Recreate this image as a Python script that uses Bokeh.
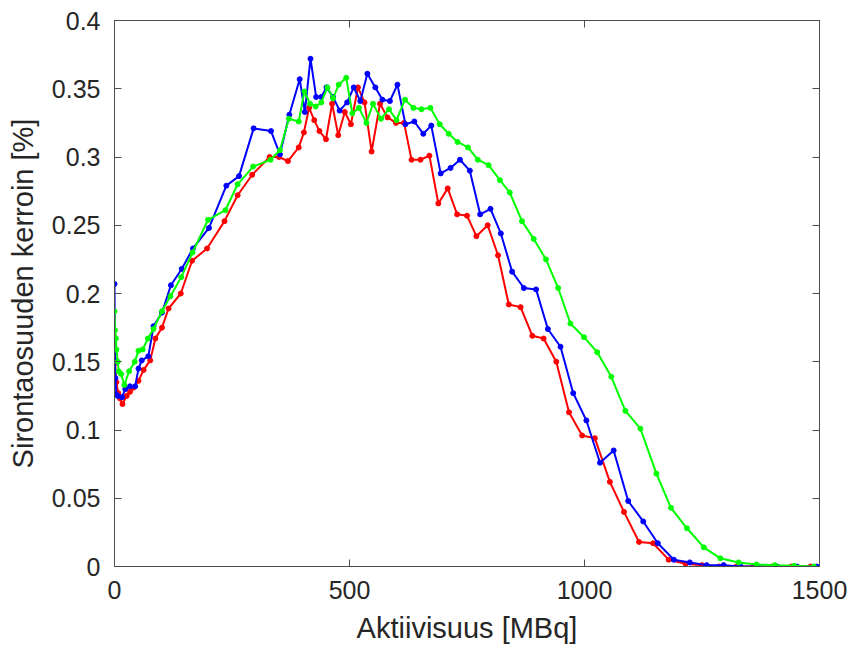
from bokeh.plotting import figure
from bokeh.models import LinearAxis, FixedTicker, Range1d, ColumnDataSource
from bokeh.embed import file_html
from bokeh.resources import INLINE

# ---- data ----
red_x = [0, 1, 4, 8, 12, 17, 26, 33, 40, 51, 62, 76, 87, 101, 115, 141, 165, 197, 234, 262,
         293, 330, 350, 369, 392, 403, 414, 425, 436, 450, 463, 476, 490, 503, 518, 532, 547,
         565, 581, 599, 616, 632, 651, 670, 689, 709, 729, 750, 770, 794, 816, 839, 864, 889,
         913, 940, 967, 995, 1022, 1054, 1084, 1116, 1146, 1179, 1215, 1250, 1286, 1323, 1360,
         1399, 1440, 1481]
red_y = [0.168, 0.149, 0.135, 0.127, 0.123, 0.119, 0.125, 0.128, 0.131, 0.136, 0.144, 0.151,
         0.167, 0.175, 0.189, 0.200, 0.224, 0.233, 0.253, 0.272, 0.287, 0.300, 0.300, 0.297,
         0.307, 0.318, 0.336, 0.327, 0.319, 0.313, 0.339, 0.316, 0.333, 0.324, 0.351, 0.340,
         0.304, 0.339, 0.329, 0.325, 0.325, 0.298, 0.298, 0.301, 0.266, 0.277, 0.258, 0.257,
         0.242, 0.250, 0.228, 0.192, 0.190, 0.169, 0.167, 0.150, 0.113, 0.096, 0.094, 0.062,
         0.040, 0.018, 0.017, 0.005, 0.002, 0.001, 0.0, 0.0, 0.0, 0.0, 0.0, 0.0]

blue_x = [0, 1, 2, 4, 7, 16, 23, 33, 44, 51, 58, 72, 83, 101, 120, 143, 167, 201, 238, 265,
          296, 333, 352, 372, 394, 405, 417, 429, 440, 451, 465, 479, 495, 509, 523, 538, 555,
          570, 586, 602, 619, 638, 657, 674, 694, 715, 735, 756, 778, 800, 822, 846, 871, 897,
          922, 949, 976, 1004, 1033, 1062, 1093, 1125, 1156, 1190, 1224, 1260, 1296, 1332, 1367,
          1410, 1452, 1494]
blue_y = [0.207, 0.151, 0.138, 0.126, 0.125, 0.124, 0.130, 0.132, 0.132, 0.145, 0.151, 0.154,
          0.176, 0.186, 0.206, 0.218, 0.233, 0.248, 0.279, 0.286, 0.321, 0.319, 0.302, 0.331,
          0.357, 0.333, 0.372, 0.344, 0.344, 0.351, 0.344, 0.334, 0.340, 0.351, 0.341, 0.361,
          0.351, 0.342, 0.341, 0.353, 0.324, 0.326, 0.317, 0.323, 0.288, 0.292, 0.298, 0.290,
          0.258, 0.262, 0.244, 0.216, 0.204, 0.203, 0.174, 0.161, 0.127, 0.107, 0.076, 0.085,
          0.048, 0.033, 0.017, 0.005, 0.003, 0.001, 0.001, 0.0, 0.0, 0.0, 0.0, 0.0]

green_x = [0, 1, 3, 4, 7, 9, 14, 21, 31, 43, 51, 60, 71, 83, 101, 119, 142, 166, 199, 236,
           262, 295, 332, 352, 371, 392, 404, 416, 428, 440, 453, 465, 477, 493, 506, 520, 536,
           550, 567, 584, 600, 618, 636, 653, 672, 692, 711, 730, 752, 773, 796, 820, 841, 867,
           892, 918, 944, 970, 999, 1027, 1057, 1087, 1119, 1153, 1184, 1218, 1254, 1289, 1328,
           1366, 1405, 1446, 1488]
green_y = [0.187, 0.173, 0.167, 0.159, 0.150, 0.143, 0.141, 0.133, 0.143, 0.150, 0.158, 0.159,
           0.167, 0.174, 0.187, 0.198, 0.212, 0.230, 0.254, 0.261, 0.280, 0.293, 0.298, 0.305,
           0.328, 0.326, 0.348, 0.339, 0.337, 0.340, 0.351, 0.343, 0.353, 0.358, 0.332, 0.336,
           0.325, 0.339, 0.328, 0.335, 0.327, 0.342, 0.336, 0.335, 0.336, 0.324, 0.317, 0.311,
           0.307, 0.298, 0.294, 0.283, 0.274, 0.253, 0.240, 0.225, 0.204, 0.178, 0.168, 0.157,
           0.139, 0.114, 0.101, 0.068, 0.043, 0.028, 0.014, 0.006, 0.003, 0.0015, 0.001, 0.0005,
           0.0]

x_ticks = [0, 500, 1000, 1500]
x_tick_labels = ["0", "500", "1000", "1500"]
y_ticks = [0, 0.05, 0.1, 0.15, 0.2, 0.25, 0.3, 0.35, 0.4]
y_tick_labels = ["0", "0.05", "0.1", "0.15", "0.2", "0.25", "0.3", "0.35", "0.4"]
x_label = "Aktiivisuus [MBq]"
y_label = "Sirontaosuuden kerroin [%]"

FONT = "Liberation Sans"
AX_COL = "#262626"
BOX_COL = "#4d4d4d"

p = figure(width=854, height=653, output_backend="svg", toolbar_location=None,
           x_range=Range1d(0, 1500), y_range=Range1d(0, 0.4),
           min_border_left=114, min_border_right=35, min_border_top=20, min_border_bottom=87,
           x_axis_label=x_label, y_axis_label=y_label)
p.background_fill_color = "white"
p.border_fill_color = "white"
p.xgrid.visible = False
p.ygrid.visible = False
p.outline_line_color = BOX_COL
p.outline_line_width = 1

for color, xs, ys in [("#ff0000", red_x, red_y), ("#0000ff", blue_x, blue_y),
                      ("#00ff00", green_x, green_y)]:
    src = ColumnDataSource(dict(x=xs, y=ys))
    p.line("x", "y", source=src, line_color=color, line_width=2)
    p.scatter("x", "y", source=src, size=5, fill_color=color, line_color=color)

def style(ax, ticks, labels, show):
    ax.ticker = FixedTicker(ticks=ticks)
    ax.major_label_overrides = {t: l for t, l in zip(ticks, labels)}
    ax.minor_tick_line_color = None
    ax.major_tick_in = 7
    ax.major_tick_out = 0
    ax.axis_line_color = BOX_COL
    ax.major_tick_line_color = BOX_COL
    ax.major_label_text_font = FONT
    ax.major_label_text_color = AX_COL
    ax.axis_label_text_font = FONT
    ax.axis_label_text_color = AX_COL
    ax.axis_label_text_font_style = "normal"
    if show:
        ax.major_label_text_font_size = "25px"
        ax.axis_label_text_font_size = "29px"
    else:
        ax.major_label_text_font_size = "0px"

style(p.xaxis[0], x_ticks, x_tick_labels, True)
style(p.yaxis[0], y_ticks, y_tick_labels, True)
p.xaxis[0].major_label_standoff = 14
p.xaxis[0].axis_label_standoff = 10
p.yaxis[0].major_label_standoff = 14
p.yaxis[0].axis_label_standoff = 10

top = LinearAxis()
style(top, x_ticks, ["", "", "", ""], False)
p.add_layout(top, "above")
right = LinearAxis()
style(right, y_ticks, [""] * len(y_ticks), False)
p.add_layout(right, "right")

open("out.html", "w").write(file_html(p, INLINE))
